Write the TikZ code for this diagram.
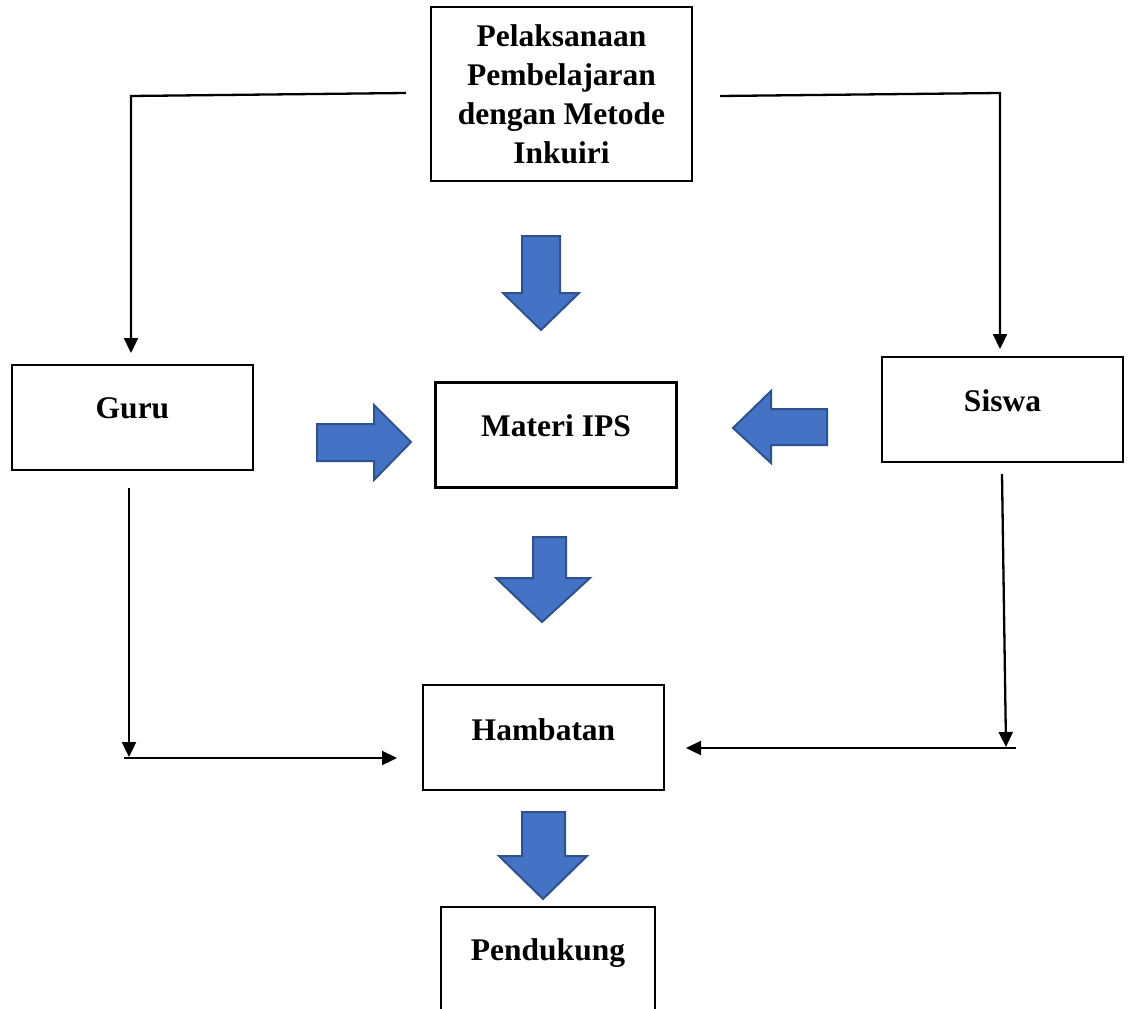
\documentclass[tikz,border=0pt]{standalone}
\usepackage{fontspec}
\setmainfont{Liberation Serif}
\usetikzlibrary{arrows.meta,calc}
\definecolor{blockblue}{HTML}{4472C4}
\definecolor{blockedge}{HTML}{2F528F}
\begin{document}
\begin{tikzpicture}[x=1pt,y=-1pt,
 box/.style={draw=black,line width=2.4pt,minimum width=241pt,minimum height=105pt,inner sep=0pt},
 txt/.style={font=\fontsize{31.5}{39}\selectfont\bfseries},
 conn/.style={line width=2.3pt,-{Triangle[length=15pt,width=14pt]}},
 blk/.style={fill=blockblue,draw=blockedge,line width=2pt,line join=miter}]
\clip (0,0) rectangle (1130,1009);
\fill[white] (0,0) rectangle (1130,1009);

% boxes
\node[box,minimum width=261pt,minimum height=174pt,align=center,txt] (top) at (561.5,94)
  {Pelaksanaan\\Pembelajaran\\dengan Metode\\Inkuiri};
\node[box,label={[txt,yshift=9pt]center:Guru}] (guru) at (132.5,417.5) {};
\node[box,label={[txt,yshift=9pt]center:Materi IPS}] (materi) at (556,435) {};
\node[box,label={[txt,yshift=9pt]center:Siswa}] (siswa) at (1002.5,409.5) {};
\node[box,label={[txt,yshift=8pt]center:Hambatan}] (hambatan) at (543.5,737.5) {};
\node[box,minimum width=214pt,minimum height=220pt,label={[txt,yshift=64pt]center:Pendukung}] (pendukung) at (548,1017) {};

% free ends of connectors
\coordinate (tlA) at (406,93);
\coordinate (tlB) at (131,96);
\coordinate (tlC) at (131,353);
\coordinate (trA) at (720,96);
\coordinate (trB) at (1000,93);
\coordinate (trC) at (1000,349);
\coordinate (gA) at (129,488);
\coordinate (gB) at (129,757);
\coordinate (gC) at (124,758);
\coordinate (gD) at (397,758);
\coordinate (sA) at (1002,474);
\coordinate (sB) at (1006,747);
\coordinate (sC) at (1016,748);
\coordinate (sD) at (686,748);

\draw[conn] (tlA) -- (tlB) -- (tlC);
\draw[conn] (trA) -- (trB) -- (trC);
\draw[conn] (gA) -- (gB);
\draw[conn] (gC) -- (gD);
\draw[conn] (sA) -- (sB);
\draw[conn] (sC) -- (sD);

% block arrows
\draw[blk] (522,236) -- (560,236) -- (560,293) -- (579,293) -- (541,330) -- (503,293) -- (522,293) -- cycle;
\draw[blk] (317,424) -- (374,424) -- (374,405) -- (411,442) -- (374,480) -- (374,461) -- (317,461) -- cycle;
\draw[blk] (827,409) -- (771,409) -- (771,391) -- (733,428) -- (771,463) -- (771,445) -- (827,445) -- cycle;
\draw[blk] (533,537) -- (566,537) -- (566,578) -- (590,578) -- (542,622) -- (496,578) -- (533,578) -- cycle;
\draw[blk] (522,812) -- (565,812) -- (565,856) -- (587,856) -- (543,899) -- (499,856) -- (522,856) -- cycle;
\end{tikzpicture}
\end{document}
